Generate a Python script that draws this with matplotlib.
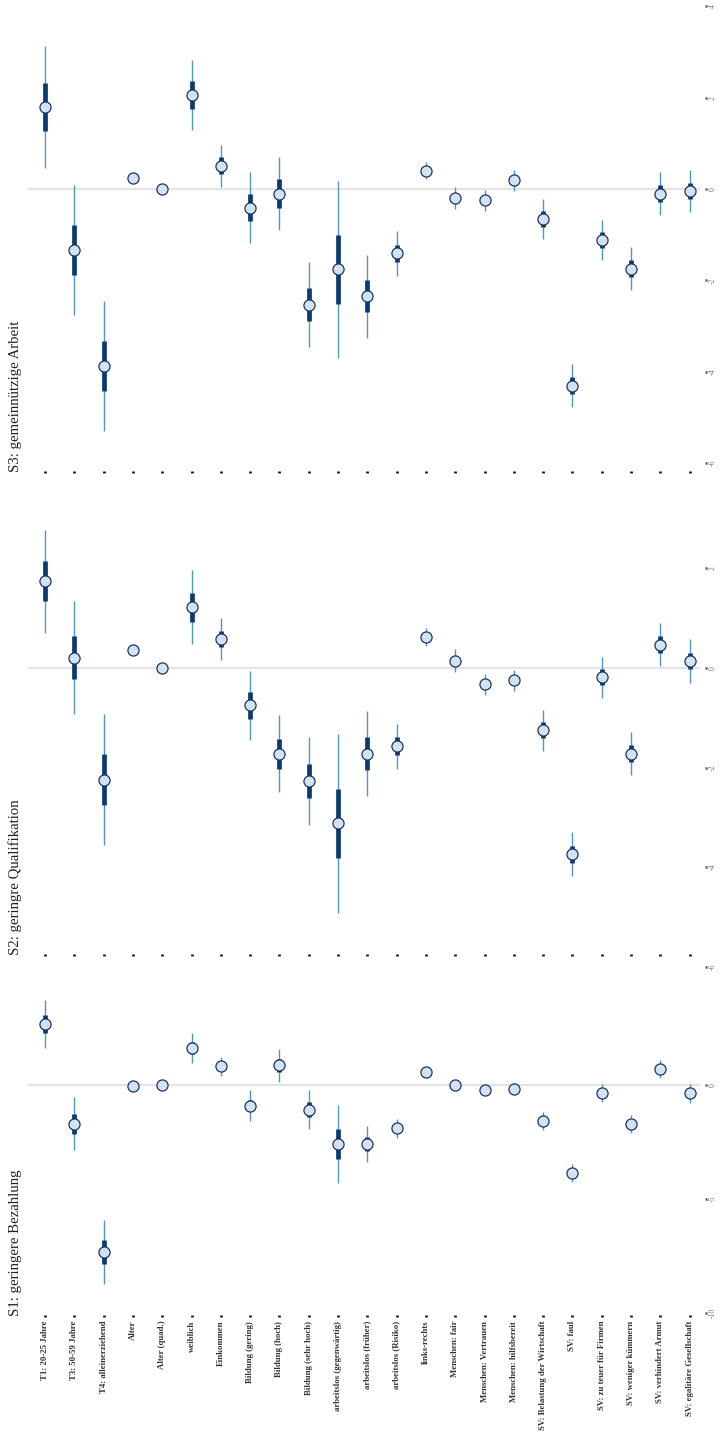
import matplotlib
matplotlib.use("Agg")
import matplotlib.pyplot as plt
import matplotlib.transforms as mtransforms
import numpy as np

plt.rcParams['font.family'] = ['Liberation Serif', 'DejaVu Serif']
plt.rcParams['axes.unicode_minus'] = False

# Predictors (same order in every panel)
variables = [
    "T1: 20-25 Jahre", "T3: 50-59 Jahre", "T4: alleinerziehend", "Alter",
    "Alter (quad.)", "weiblich", "Einkommen", "Bildung (gering)",
    "Bildung (hoch)", "Bildung (sehr hoch)", "arbeitslos (gegenwärtig)",
    "arbeitslos (früher)", "arbeitslos (Risiko)", "links-rechts",
    "Menschen: fair", "Menschen: Vertrauen", "Menschen: hilfsbereit",
    "SV: Belastung der Wirtschaft", "SV: faul", "SV: zu teuer für Firmen",
    "SV: weniger kümmern", "SV: verhindert Armut", "SV: egalitäre Gesellschaft",
]

# S1: geringere Bezahlung
s1_est = [2.68, -1.70, -7.33, -0.03, 0.00, 1.63, 0.82, -0.90, 0.87, -1.09,
          -2.58, -2.58, -1.90, 0.56, 0.01, -0.20, -0.16, -1.58, -3.86, -0.36,
          -1.71, 0.70, -0.37]
s1_se = [0.41, 0.45, 0.54, 0.01, 0.002, 0.26, 0.16, 0.26, 0.28, 0.33,
         0.66, 0.31, 0.16, 0.07, 0.07, 0.07, 0.07, 0.15, 0.16, 0.15,
         0.16, 0.16, 0.16]

# S2: geringre Qualifikation
s2_est = [1.74, 0.21, -2.24, 0.36, 0.00, 1.22, 0.58, -0.75, -1.72, -2.27,
          -3.12, -1.72, -1.57, 0.62, 0.15, -0.33, -0.25, -1.25, -3.74, -0.19,
          -1.72, 0.47, 0.14]
s2_se = [0.40, 0.44, 0.51, 0.01, 0.002, 0.29, 0.165, 0.27, 0.30, 0.34,
         0.70, 0.33, 0.175, 0.07, 0.09, 0.08, 0.08, 0.16, 0.17, 0.16,
         0.165, 0.17, 0.17]

# S3: gemeinnützige Arbeit
s3_est = [1.80, -1.33, -3.87, 0.23, 0.00, 2.06, 0.51, -0.41, -0.10, -2.53,
          -1.76, -2.35, -1.41, 0.40, -0.20, -0.25, 0.19, -0.66, -4.30, -1.12,
          -1.74, -0.10, -0.04]
s3_se = [0.52, 0.55, 0.55, 0.01, 0.002, 0.30, 0.18, 0.30, 0.31, 0.36,
         0.75, 0.35, 0.19, 0.074, 0.093, 0.09, 0.09, 0.17, 0.18, 0.17,
         0.18, 0.18, 0.18]

titles = ["S3: gemeinnützige Arbeit", "S2: geringre Qualifikation",
          "S1: geringere Bezahlung"]
ticks = [[-6, -4, -2, 0, 2, 4], [-6, -4, -2, 0, 2], [-10, -5, 0]]

THIN_C = "#5596c0"
THICK_C = "#0a3a72"
FACE_C = "#d2e3ef"
EDGE_C = "#1b3462"

W, H = 720, 1447
fig = plt.figure(figsize=(W / 100, H / 100), dpi=100)

# panel layout: pixel row of the zero line, pixels per unit, value limits,
# value at which the category tick row sits
layout = [
    dict(zero=189.0, ppu=45.7, lim=(-6.3, 4.1), row=-6.19),
    dict(zero=668.0, ppu=49.8, lim=(-6.15, 3.1), row=-5.77),
    dict(zero=1085.0, ppu=22.8, lim=(-10.3, 4.0), row=-10.13),
]
ax_left_px, ax_right_px = 27.5, 700.0

panels = [(s3_est, s3_se), (s2_est, s2_se), (s1_est, s1_se)]
xpos = np.arange(len(variables))

for k, ((est, se), lay, title, tk) in enumerate(zip(panels, layout, titles, ticks)):
    top_px = lay["zero"] - lay["lim"][1] * lay["ppu"]
    bot_px = lay["zero"] - lay["lim"][0] * lay["ppu"]
    ax = fig.add_axes([ax_left_px / W, 1 - bot_px / H,
                       (ax_right_px - ax_left_px) / W, (bot_px - top_px) / H])
    est = np.asarray(est)
    se = np.asarray(se)

    ax.axhline(0, color="#e4e4e4", lw=1.6, zorder=0)
    # 99% interval (thin) and +/- 1 s.e. (thick)
    ax.vlines(xpos, est - 2.576 * se, est + 2.576 * se, color=THIN_C,
              lw=1.0, zorder=2)
    ax.vlines(xpos, est - se, est + se, color=THICK_C, lw=3.4, zorder=3,
              capstyle="butt")
    ax.plot(xpos, est, "o", ms=8.0, mfc=FACE_C, mec=EDGE_C, mew=0.9,
            zorder=4, ls="none")

    ax.set_xlim(-0.6, (ax_right_px - 45.0) / 29.3)
    ax.set_ylim(*lay["lim"])

    for side in ("top", "left", "right", "bottom"):
        ax.spines[side].set_visible(False)
    ax.spines["bottom"].set_position(("data", lay["row"]))
    ax.spines["right"].set_position(("outward", 4))

    ax.set_xticks(xpos)
    if k == 2:
        ax.set_xticklabels(variables, rotation=90, fontsize=6.3,
                           fontweight="bold", color="#333333")
    else:
        ax.set_xticklabels([])
    ax.tick_params(axis="x", direction="inout", length=2.0, width=2.0,
                   color="#1a1a1a", pad=2.5)

    ax.yaxis.tick_right()
    ax.set_yticks(tk)
    ax.set_yticklabels([str(t) for t in tk], rotation=90, va="center",
                       fontsize=5.6, color="#777777")
    ax.tick_params(axis="y", direction="inout", length=2.0, width=1.8,
                   color="#555555", pad=1.5)

    trans = mtransforms.blended_transform_factory(fig.transFigure, ax.transData)
    ax.text(15.5 / W, lay["row"], title, transform=trans, rotation=90,
            ha="center", va="bottom", fontsize=10.6, color="#222222")

fig.savefig("out.png", dpi=100)
